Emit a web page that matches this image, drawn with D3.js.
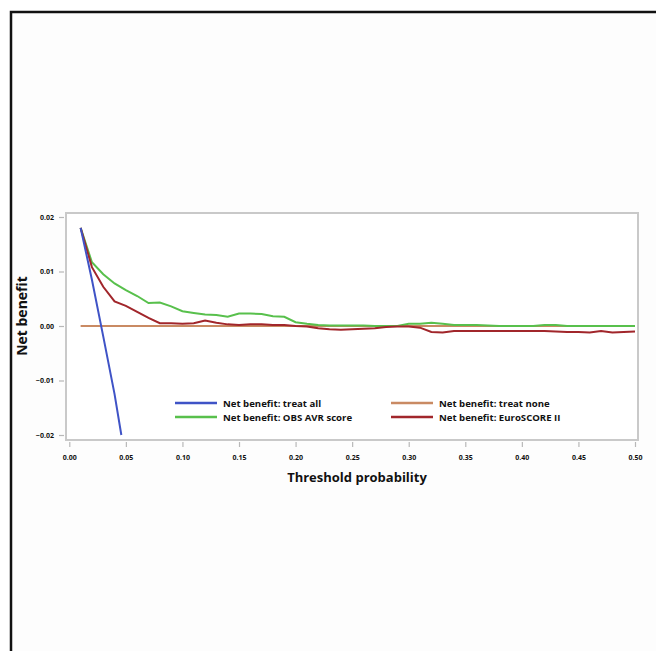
<!DOCTYPE html>
<html><head><meta charset="utf-8">
<script src="https://cdn.jsdelivr.net/npm/d3@7"></script>
<style>body{margin:0;background:#fff}svg{display:block}text{font-family:"Open Sans",sans-serif;font-weight:700;fill:#111}</style>
</head><body><svg id="c" width="656" height="651"></svg>
<script>
const thresholds = [0.01,0.02,0.03,0.04,0.05,0.06,0.07,0.08,0.09,0.10,0.11,0.12,0.13,0.14,0.15,0.16,0.17,0.18,0.19,0.20,0.21,0.22,0.23,0.24,0.25,0.26,0.27,0.28,0.29,0.30,0.31,0.32,0.33,0.34,0.35,0.36,0.37,0.38,0.39,0.40,0.41,0.42,0.43,0.44,0.45,0.46,0.47,0.48,0.49,0.50];
const obsAvr = [0.0180,0.0117,0.0095,0.0078,0.0066,0.0055,0.0042,0.0043,0.0036,0.0027,0.0024,0.0021,0.0020,0.0017,0.0023,0.0023,0.0022,0.0018,0.0017,0.0007,0.0004,0.0002,0.0001,0.0001,0.0001,0.0001,0.0000,0.0000,0.0000,0.0004,0.0004,0.0006,0.0004,0.0002,0.0002,0.0002,0.0001,0.0000,0.0000,0.0000,0.0000,0.0002,0.0002,0.0000,0.0000,0.0000,0.0000,0.0000,0.0000,0.0000];
const euroScore = [0.0180,0.0108,0.0072,0.0045,0.0037,0.0026,0.0015,0.0005,0.0005,0.0004,0.0005,0.0010,0.0006,0.0003,0.0002,0.0003,0.0003,0.0002,0.0002,0.0000,-0.0001,-0.0004,-0.0006,-0.0007,-0.0006,-0.0005,-0.0004,-0.0002,-0.0001,-0.0001,-0.0003,-0.0011,-0.0012,-0.0009,-0.0009,-0.0009,-0.0009,-0.0009,-0.0009,-0.0009,-0.0009,-0.0009,-0.0010,-0.0011,-0.0011,-0.0012,-0.0009,-0.0012,-0.0011,-0.0010];
const treatAllX = [0.01,0.02,0.03,0.04,0.046];
const treatAllY = [0.0180,0.0085,-0.0019,-0.0125,-0.0200];
const treatNone = thresholds.map(() => 0);
const xTicks = [0,0.05,0.10,0.15,0.20,0.25,0.30,0.35,0.40,0.45,0.50];
const yTicks = [-0.02,-0.01,0,0.01,0.02];
const legendLabels = ["Net benefit: treat all","Net benefit: OBS AVR score","Net benefit: treat none","Net benefit: EuroSCORE II"];
const colors = {all:"#3f53c6", obs:"#58c04c", none:"#c98a63", euro:"#a1262b"};

const svg = d3.select("#c");
svg.append("rect").attr("x",11).attr("y",12).attr("width",700).attr("height",700)
  .attr("fill","#fdfdfd").attr("stroke","#111").attr("stroke-width",2.5);

const L=66,R=638,T=213,B=440;
const x = d3.scaleLinear().domain([0,0.5]).range([69.3,635]);
const y = d3.scaleLinear().domain([-0.02,0.02]).range([435,217]);

svg.append("rect").attr("x",L).attr("y",T).attr("width",R-L).attr("height",B-T)
  .attr("fill","#fff").attr("stroke","#c9c9c9").attr("stroke-width",2);

const xa = svg.append("g").attr("transform",`translate(0,${B+2})`)
  .call(d3.axisBottom(x).tickValues(xTicks).tickFormat(d3.format(".2f")).tickSize(5).tickPadding(8));
const ya = svg.append("g").attr("transform",`translate(${L-2},0)`)
  .call(d3.axisLeft(y).tickValues(yTicks).tickFormat(d3.format(".2f")).tickSize(5).tickPadding(5));
[xa,ya].forEach(a=>{a.select(".domain").remove();a.selectAll("line").attr("stroke","#b8b8b8").attr("stroke-width",1.2);
  a.selectAll("text").style("font-family","'Open Sans',sans-serif").style("font-weight",700).style("font-size","7px").attr("fill","#222");});

const line = d3.line().x(d=>x(d[0])).y(d=>y(d[1]));
const g = svg.append("g");
g.append("path").datum(thresholds.map((t,i)=>[t,treatNone[i]])).attr("d",line).attr("fill","none").attr("stroke",colors.none).attr("stroke-width",2);
g.append("path").datum(thresholds.map((t,i)=>[t,obsAvr[i]])).attr("d",line).attr("fill","none").attr("stroke",colors.obs).attr("stroke-width",2);
g.append("path").datum(thresholds.map((t,i)=>[t,euroScore[i]])).attr("d",line).attr("fill","none").attr("stroke",colors.euro).attr("stroke-width",2);
g.append("path").datum(treatAllX.map((t,i)=>[t,treatAllY[i]])).attr("d",line).attr("fill","none").attr("stroke",colors.all).attr("stroke-width",2);

const leg = [
  {lab:legendLabels[0],c:colors.all,x:175,y:403},
  {lab:legendLabels[1],c:colors.obs,x:175,y:417},
  {lab:legendLabels[2],c:colors.none,x:391,y:403},
  {lab:legendLabels[3],c:colors.euro,x:391,y:417}];
leg.forEach(l=>{
  svg.append("line").attr("x1",l.x).attr("x2",l.x+42).attr("y1",l.y).attr("y2",l.y).attr("stroke",l.c).attr("stroke-width",2.5);
  svg.append("text").attr("x",l.x+48).attr("y",l.y+3.5).style("font-size","9.6px").text(l.lab);
});

svg.append("text").attr("transform","translate(27,316) rotate(-90)").attr("text-anchor","middle").style("font-size","14px").text("Net benefit");
svg.append("text").attr("x",357).attr("y",482).attr("text-anchor","middle").style("font-size","13px").text("Threshold probability");
</script></body></html>
